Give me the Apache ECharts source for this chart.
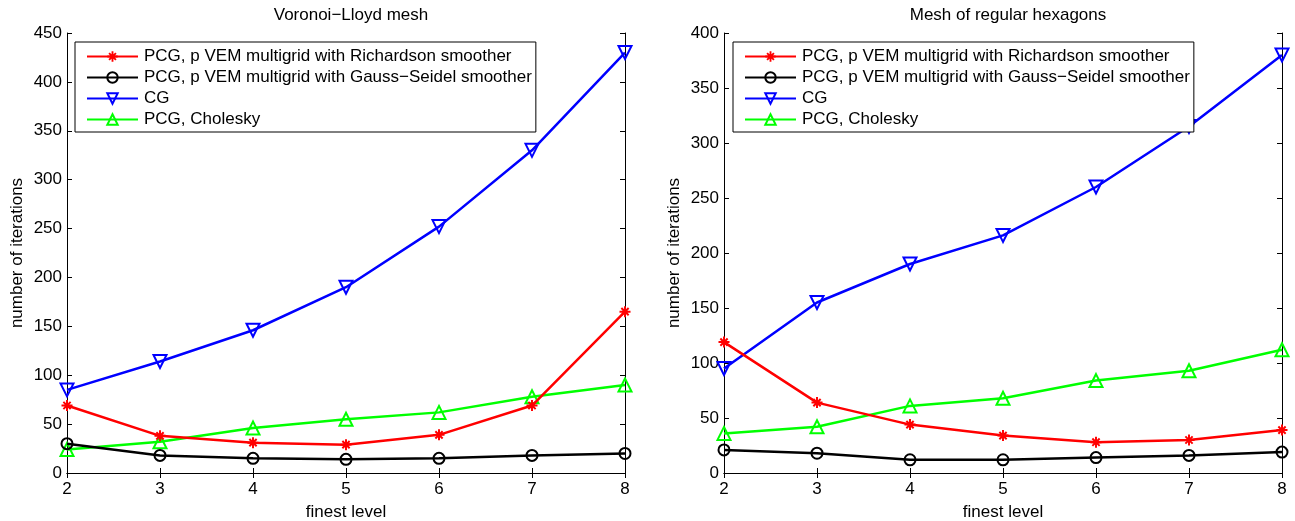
<!DOCTYPE html>
<html>
<head>
<meta charset="utf-8">
<script src="https://cdn.jsdelivr.net/npm/echarts@6/dist/echarts.min.js"></script>
<style>
  html, body { margin: 0; padding: 0; background: #fff; }
  #chart { width: 1295px; height: 521px; }
</style>
</head>
<body>
<div id="chart"></div>
<script>
// finest level on x
const levels = [2, 3, 4, 5, 6, 7, 8];

const seriesNames = [
  'PCG, p VEM multigrid with Richardson smoother',
  'PCG, p VEM multigrid with Gauss\u2212Seidel smoother',
  'CG',
  'PCG, Cholesky'
];

// Voronoi-Lloyd mesh
const voronoiRichardson = [69, 38, 31, 29, 39, 69, 165];
const voronoiGaussSeidel = [30, 18, 15, 14, 15, 18, 20];
const voronoiCG = [85, 114, 146, 190, 252, 330, 430];
const voronoiCholesky = [24, 32, 46, 55, 62, 78, 90];

// regular hexagons
const hexRichardson = [119, 64, 44, 34, 28, 30, 39];
const hexGaussSeidel = [21, 18, 12, 12, 14, 16, 19];
const hexCG = [95, 155, 190, 216, 260, 315, 380];
const hexCholesky = [36, 42, 61, 68, 84, 93, 112];

const leftYTicks = { min: 0, max: 450, step: 50 };
const rightYTicks = { min: 0, max: 400, step: 50 };

const font = 'Liberation Sans, Arial, Helvetica, sans-serif';
const fs = 17;
const colors = ['#ff0000', '#000000', '#0000ff', '#00ff00'];

// asterisk marker, all sub-paths wound the same way
const asterisk = 'path://M1 8.4 L19 8.4 L19 11.6 L1 11.6 Z M8.4 1 L11.6 1 L11.6 19 L8.4 19 Z ' +
  'M5.2 2.9 L17.1 14.8 L14.8 17.1 L2.9 5.2 Z M17.1 5.2 L5.2 17.1 L2.9 14.8 L14.8 2.9 Z';

const markers = [
  { symbol: asterisk, size: 11, rotate: 0, hollow: false },
  { symbol: 'circle', size: 11, rotate: 0, hollow: true },
  { symbol: 'triangle', size: 13, rotate: 180, hollow: true },
  { symbol: 'triangle', size: 13, rotate: 0, hollow: true }
];

const pairs = (vals) => levels.map((x, i) => [x, vals[i]]);

const makeSeries = (idx, lists) => lists.map((vals, k) => ({
  name: seriesNames[k],
  type: 'line',
  xAxisIndex: idx * 2,
  yAxisIndex: idx * 2,
  data: pairs(vals),
  symbol: markers[k].symbol,
  symbolSize: markers[k].size,
  symbolRotate: markers[k].rotate,
  showAllSymbol: true,
  color: colors[k],
  lineStyle: { color: colors[k], width: 2.5 },
  itemStyle: markers[k].hollow
    ? { color: 'rgba(255,255,255,0)', borderColor: colors[k], borderWidth: 2 }
    : { color: colors[k], borderWidth: 0 },
  emphasis: { disabled: true },
  z: 2 + (3 - k)
}));

const grids = [
  { left: 67, right: 670, top: 33, bottom: 48, outerBoundsMode: 'none', containLabel: false },
  { left: 724, right: 13, top: 33, bottom: 48, outerBoundsMode: 'none', containLabel: false }
];

const tickStyle = { show: true, inside: true, length: 5, lineStyle: { color: '#000' } };
const lineStyleBlack = { show: true, lineStyle: { color: '#000', width: 1 } };

const xAxes = [];
const yAxes = [];
[leftYTicks, rightYTicks].forEach((t, i) => {
  xAxes.push({
    type: 'value', gridIndex: i, min: 2, max: 8, interval: 1,
    name: 'finest level', nameLocation: 'middle', nameGap: 31,
    nameTextStyle: { color: '#000', fontSize: fs, fontFamily: font },
    axisLine: lineStyleBlack,
    axisTick: tickStyle,
    axisLabel: { color: '#000', fontSize: fs, fontFamily: font, margin: 8 },
    splitLine: { show: false }
  });
  xAxes.push({
    type: 'value', gridIndex: i, min: 2, max: 8, interval: 1, position: 'top',
    axisLine: lineStyleBlack,
    axisTick: tickStyle,
    axisLabel: { show: false },
    splitLine: { show: false }
  });
  yAxes.push({
    type: 'value', gridIndex: i, min: t.min, max: t.max, interval: t.step,
    name: 'number of iterations', nameLocation: 'middle', nameGap: 41,
    nameTextStyle: { color: '#000', fontSize: fs, fontFamily: font },
    axisLine: lineStyleBlack,
    axisTick: tickStyle,
    axisLabel: { color: '#000', fontSize: fs, fontFamily: font, margin: 5 },
    splitLine: { show: false }
  });
  yAxes.push({
    type: 'value', gridIndex: i, min: t.min, max: t.max, interval: t.step, position: 'right',
    axisLine: lineStyleBlack,
    axisTick: tickStyle,
    axisLabel: { show: false },
    splitLine: { show: false }
  });
});

const legendBase = {
  orient: 'vertical',
  top: 42,
  data: seriesNames,
  itemWidth: 51,
  itemHeight: 13,
  itemGap: 4,
  padding: [6, 4, 4, 11],
  backgroundColor: '#fff',
  borderColor: '#000',
  borderWidth: 1,
  borderRadius: 0,
  selectedMode: false,
  textStyle: { color: '#000', fontSize: fs, lineHeight: 17, fontFamily: font, padding: [0, 0, 0, 1] },
  z: 10
};

const titleStyle = { color: '#000', fontSize: fs, fontWeight: 'normal', fontFamily: font };

const option = {
  animation: false,
  backgroundColor: '#fff',
  title: [
    { text: 'Voronoi\u2212Lloyd mesh', left: 346, top: 2, textAlign: 'center', textStyle: titleStyle },
    { text: 'Mesh of regular hexagons', left: 1003, top: 2, textAlign: 'center', textStyle: titleStyle }
  ],
  legend: [
    Object.assign({}, legendBase, { left: 75 }),
    Object.assign({}, legendBase, { left: 733 })
  ],
  grid: grids,
  xAxis: xAxes,
  yAxis: yAxes,
  series: makeSeries(0, [voronoiRichardson, voronoiGaussSeidel, voronoiCG, voronoiCholesky])
    .concat(makeSeries(1, [hexRichardson, hexGaussSeidel, hexCG, hexCholesky]))
};

const myChart = echarts.init(document.getElementById('chart'));
myChart.setOption(option);
</script>
</body>
</html>
